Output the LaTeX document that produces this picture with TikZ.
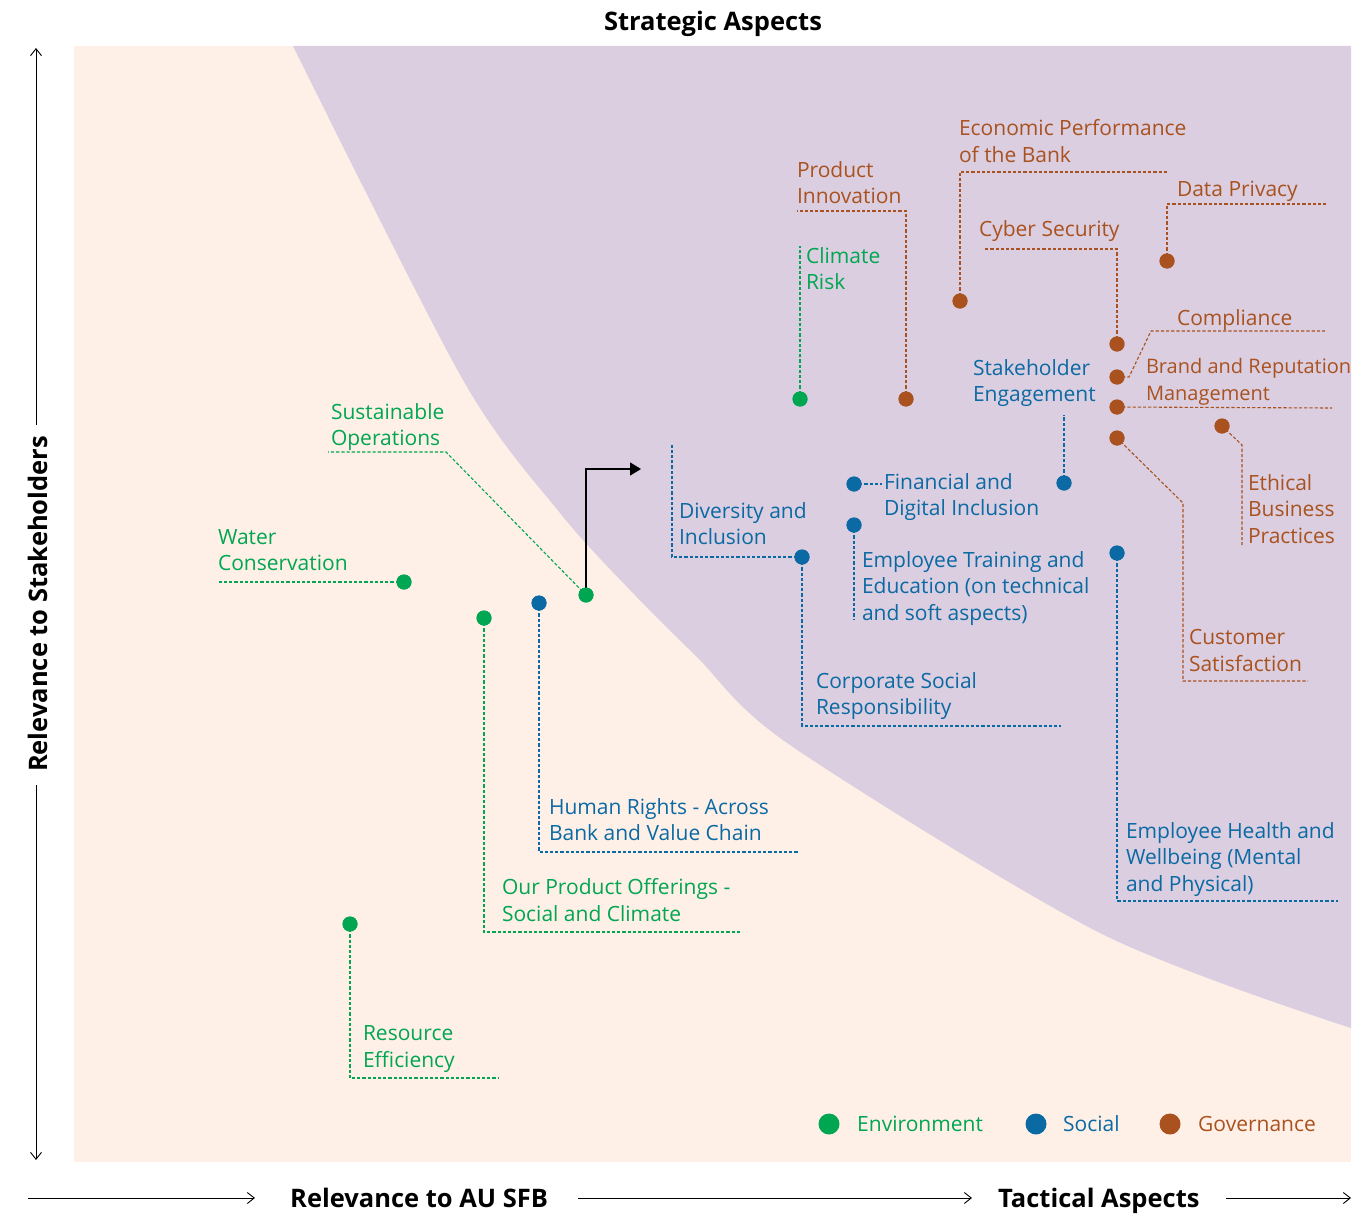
\documentclass[tikz,border=0pt]{standalone}
\usepackage{fontspec}
\setmainfont{Open Sans}
\usetikzlibrary{arrows.meta}
\definecolor{envc}{HTML}{00A651}
\definecolor{socc}{HTML}{0B69A3}
\definecolor{govc}{HTML}{A9521F}
\definecolor{peach}{HTML}{FEF0E7}
\definecolor{lilac}{HTML}{DACEE0}
\begin{document}
\begin{tikzpicture}[x=1pt,y=-1pt,
  lab/.style={anchor=north west, inner sep=0pt, outer sep=0pt, align=left,
    font=\fontsize{21}{26.5}\selectfont, execute at begin node=\strut},
  envl/.style={lab, text=envc},
  socl/.style={lab, text=socc},
  govl/.style={lab, text=govc},
  dot/.style={circle, fill=#1, minimum size=15pt, inner sep=0pt, draw=none},
  bigdot/.style={circle, fill=#1, minimum size=21pt, inner sep=0pt, draw=none},
  lead/.style={draw=#1, line width=1.1pt, dash pattern=on 3.2pt off 2pt},
  axis/.style={font=\fontsize{25.5}{30}\bfseries, inner sep=0pt},
  axarrow/.style={line width=0.9pt, -{Straight Barb[length=7pt,width=11pt]}},
  legtext/.style={anchor=base west, inner sep=0pt, font=\fontsize{21}{26.5}\selectfont},
]
\useasboundingbox (0,0) rectangle (1369,1215);
% background panels
\fill[peach] (74,46) rectangle (1351,1162);
\fill[lilac] (293,46) -- (1351,46) -- (1351,1028)
  plot[smooth] coordinates {(1351,1028) (1100,933) (790,745) (697,657) (630,590) (560,513) (463,380) (293,46)} -- cycle;

% axes
\node[axis, anchor=base] (top) at (713,31) {Strategic Aspects};
\node[axis, anchor=base west] (xl) at (290,1207) {Relevance to AU SFB};
\node[axis, anchor=base west] (tl) at (998,1207) {Tactical Aspects};
\node[axis, anchor=base, rotate=90] (yl) at (47,604) {Relevance to Stakeholders};
\coordinate (b0) at (28,1198); \coordinate (b1) at (255,1198);
\coordinate (b2) at (578,1198); \coordinate (b3) at (972,1198);
\coordinate (b4) at (1226,1198); \coordinate (b5) at (1351,1198);
\coordinate (v0) at (36,425); \coordinate (v1) at (36,48);
\coordinate (v2) at (36,785); \coordinate (v3) at (36,1160);
\draw[axarrow] (b0) -- (b1);
\draw[axarrow] (b2) -- (b3);
\draw[axarrow] (b4) -- (b5);
\draw[axarrow] (v0) -- (v1);
\draw[axarrow] (v2) -- (v3);

% dots
\node[dot=envc] (cr) at (800,399) {};
\node[dot=envc] (so) at (586,595) {};
\node[dot=envc] (wc) at (404,582) {};
\node[dot=envc] (po) at (484,618) {};
\node[dot=envc] (re) at (350,924) {};
\node[dot=socc] (hr) at (539,603) {};
\node[dot=socc] (di) at (802,557) {};
\node[dot=socc] (fd) at (854,484) {};
\node[dot=socc] (et) at (854,525) {};
\node[dot=socc] (se) at (1064,483) {};
\node[dot=socc] (eh) at (1117,553) {};
\node[dot=govc] (pi) at (906,399) {};
\node[dot=govc] (ep) at (960,301) {};
\node[dot=govc] (dp) at (1167,261) {};
\node[dot=govc] (cs) at (1117,344) {};
\node[dot=govc] (cm) at (1117,377) {};
\node[dot=govc] (br) at (1117,407) {};
\node[dot=govc] (eb) at (1222,426) {};
\node[dot=govc] (cu) at (1117,438) {};

% labels
\node[govl] (l-ep) at (959,119.5) {Economic Performance\\of the Bank};
\node[govl] (l-pi) at (797,161.5) {Product\\Innovation};
\node[govl] (l-dp) at (1177,177.5) {Data Privacy};
\node[govl] (l-cs) at (979,217.5) {Cyber Security};
\node[envl] (l-cr) at (806,247.5) {Climate\\Risk};
\node[govl] (l-cm) at (1177,306.5) {Compliance};
\node[socl] (l-se) at (973,359.5) {Stakeholder\\Engagement};
\node[govl, font=\fontsize{20}{26.5}\selectfont] (l-br) at (1146,358.5) {Brand and Reputation\\Management};
\node[envl] (l-so) at (331,403.5) {Sustainable\\Operations};
\node[socl] (l-fd) at (884,473.5) {Financial and\\Digital Inclusion};
\node[govl] (l-eb) at (1248,474.5) {Ethical\\Business\\Practices};
\node[socl] (l-di) at (679,502.5) {Diversity and\\Inclusion};
\node[envl] (l-wc) at (218,529.5) {Water\\Conservation};
\node[socl] (l-et) at (862,551.5) {Employee Training and\\Education (on technical\\and soft aspects)};
\node[govl] (l-cu) at (1189,629.5) {Customer\\Satisfaction};
\node[socl] (l-csr) at (816,672.5) {Corporate Social\\Responsibility};
\node[socl] (l-hr) at (549,798.5) {Human Rights - Across\\Bank and Value Chain};
\node[socl] (l-eh) at (1126,822.5) {Employee Health and\\Wellbeing (Mental\\and Physical)};
\node[envl] (l-po) at (502,878.5) {Our Product Offerings -\\Social and Climate};
\node[envl] (l-re) at (363,1025.5) {Resource\\Efficiency};

% leader end points
\coordinate (e-cr) at (800,246);
\coordinate (e-pi) at (797,211);
\coordinate (e-ep) at (1167,172);
\coordinate (e-dp) at (1326,204);
\coordinate (e-cs) at (985,249);
\coordinate (e-cm) at (1327,331);
\coordinate (e-br) at (1332,408);
\coordinate (e-eb) at (1242,545);
\coordinate (e-cu) at (1308,681);
\coordinate (e-se) at (1064,415);
\coordinate (e-fd) at (882,484);
\coordinate (e-et) at (854,620);
\coordinate (e-di) at (672,443);
\coordinate (e-csr) at (1061,726);
\coordinate (e-eh) at (1338,901);
\coordinate (e-so) at (328,452);
\coordinate (e-wc) at (218,582);
\coordinate (e-po) at (742,932);
\coordinate (e-hr) at (798,852);
\coordinate (e-re) at (498,1078);

% leaders (drawn from dot centres; dots redrawn on top below)
\draw[lead=envc] (cr.center) -- (e-cr);
\draw[lead=govc] (pi.center) |- (e-pi);
\draw[lead=govc] (ep.center) |- (e-ep);
\draw[lead=govc] (dp.center) |- (e-dp);
\draw[lead=govc] (cs.center) |- (e-cs);
\draw[lead=govc] (cm.center) -- (1129,377) -- (1151,331) -- (e-cm);
\draw[lead=govc] (br.center) -- (e-br);
\draw[lead=govc] (eb.center) -- (1242,445) -- (e-eb);
\draw[lead=govc] (cu.center) -- (1183,503) |- (e-cu);
\draw[lead=socc] (se.center) -- (e-se);
\draw[lead=socc] (fd.center) -- (e-fd);
\draw[lead=socc] (et.center) -- (e-et);
\draw[lead=socc] (di.center) -| (e-di);
\draw[lead=socc] (di.center) |- (e-csr);
\draw[lead=socc] (eh.center) |- (e-eh);
\draw[lead=envc] (so.center) -- (446,452) -- (e-so);
\draw[lead=envc] (wc.center) -- (e-wc);
\draw[lead=envc] (po.center) |- (e-po);
\draw[lead=socc] (hr.center) |- (e-hr);
\draw[lead=envc] (re.center) |- (e-re);

% black arrow
\coordinate (arr) at (641,469);
\draw[line width=1.5pt, -{Triangle[length=11pt,width=13pt]}] (so.center) |- (arr);

% dots on top
\foreach \n/\c in {cr/envc,so/envc,wc/envc,po/envc,re/envc,hr/socc,di/socc,fd/socc,et/socc,se/socc,eh/socc,pi/govc,ep/govc,dp/govc,cs/govc,cm/govc,br/govc,eb/govc,cu/govc}
  \fill[\c] (\n) circle (7.5pt);

% legend
\node[bigdot=envc] (lg1) at (829,1124) {};
\node[bigdot=socc] (lg2) at (1036,1124) {};
\node[bigdot=govc] (lg3) at (1170,1124) {};
\node[legtext, text=envc] (lt1) at (857,1131.5) {Environment};
\node[legtext, text=socc] (lt2) at (1063,1131.5) {Social};
\node[legtext, text=govc] (lt3) at (1198,1131.5) {Governance};
\end{tikzpicture}
\end{document}
